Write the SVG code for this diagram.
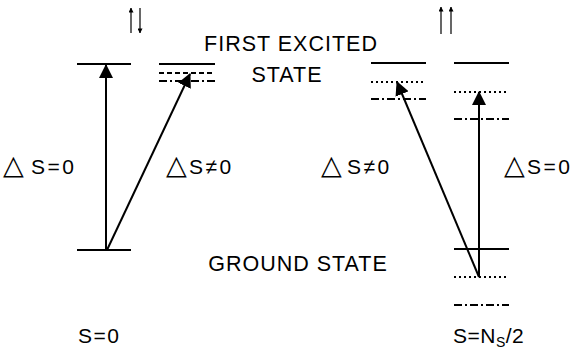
<svg xmlns="http://www.w3.org/2000/svg" width="578" height="349" viewBox="0 0 578 349">
<defs>
<marker id="ah" viewBox="0 0 14 14" refX="13" refY="7" markerWidth="14" markerHeight="14" markerUnits="userSpaceOnUse" orient="auto">
<path d="M0,0 L14,7 L0,14 Z" fill="#000"/>
</marker>
<marker id="sh" viewBox="0 0 6 6" refX="5.5" refY="3" markerWidth="5" markerHeight="5" markerUnits="userSpaceOnUse" orient="auto">
<path d="M0,0 L6,3 L0,6 Z" fill="#000"/>
</marker>
</defs>
<style>
.lv{stroke:#000;stroke-width:1.8;fill:none}
.da{stroke-dasharray:5 3}
.dd{stroke-dasharray:8 3 2 3}
.dt{stroke-dasharray:2 3}
.ar{stroke:#000;stroke-width:2;fill:none;marker-end:url(#ah)}
.sp{stroke:#000;stroke-width:1.2;fill:none;marker-end:url(#sh)}
text{font-family:"Liberation Sans","DejaVu Sans",Arial,sans-serif;fill:#000}
.big{font-size:21.5px;letter-spacing:1px}
.lab{font-size:21px;letter-spacing:2.5px}
.tri{font-family:"DejaVu Sans",sans-serif;font-size:27px;letter-spacing:0}
.bot{font-size:21px;letter-spacing:1.5px}
</style>
<rect width="578" height="349" fill="#fff"/>
<g id="levels-left">
<line class="lv" x1="77" y1="64" x2="131" y2="64"/>
<line class="lv" x1="77" y1="250" x2="131" y2="250"/>
<line class="lv" x1="159" y1="64" x2="215" y2="64"/>
<line class="lv da" x1="159" y1="73" x2="215" y2="73"/>
<line class="lv dd" x1="159" y1="81" x2="215" y2="81"/>
</g>
<g id="levels-right">
<line class="lv" x1="371" y1="63" x2="426" y2="63"/>
<line class="lv dt" x1="371" y1="82" x2="426" y2="82"/>
<line class="lv dd" x1="371" y1="99" x2="426" y2="99"/>
<line class="lv" x1="454" y1="63" x2="509" y2="63"/>
<line class="lv dt" x1="454" y1="92" x2="509" y2="92"/>
<line class="lv dd" x1="454" y1="119" x2="509" y2="119"/>
<line class="lv" x1="454" y1="249" x2="509" y2="249"/>
<line class="lv dt" x1="454" y1="277" x2="509" y2="277"/>
<line class="lv dd" x1="454" y1="305" x2="509" y2="305"/>
</g>
<g id="connectors">
<line class="ar" x1="106" y1="250" x2="106" y2="65"/>
<line class="ar" x1="107" y1="250" x2="190" y2="74"/>
<line class="ar" x1="479" y1="277" x2="479" y2="92"/>
<line class="ar" x1="479" y1="277" x2="397" y2="82"/>
<line class="sp" x1="131" y1="33" x2="131" y2="8"/>
<line class="sp" x1="140" y1="8" x2="140" y2="33"/>
<line class="sp" x1="441" y1="34" x2="441" y2="7"/>
<line class="sp" x1="451" y1="34" x2="451" y2="7"/>
</g>
<g id="labels">
<text class="big" x="291" y="51" text-anchor="middle">FIRST EXCITED</text>
<text class="big" x="287" y="82" text-anchor="middle">STATE</text>
<text class="big" x="298" y="271" text-anchor="middle">GROUND STATE</text>
<text class="lab" x="3" y="174"><tspan class="tri">△</tspan><tspan x="31">S=0</tspan></text>
<text class="lab" x="166" y="174"><tspan class="tri">△</tspan><tspan x="189">S≠0</tspan></text>
<text class="lab" x="321" y="174"><tspan class="tri">△</tspan><tspan x="347">S≠0</tspan></text>
<text class="lab" x="504" y="174"><tspan class="tri">△</tspan><tspan x="527">S=0</tspan></text>
<text class="bot" x="78" y="343">S=0</text>
<text class="bot" x="453" y="343" style="letter-spacing:0.5px">S=N<tspan font-size="14" dy="4">S</tspan><tspan dy="-4">/2</tspan></text>
</g>
</svg>
